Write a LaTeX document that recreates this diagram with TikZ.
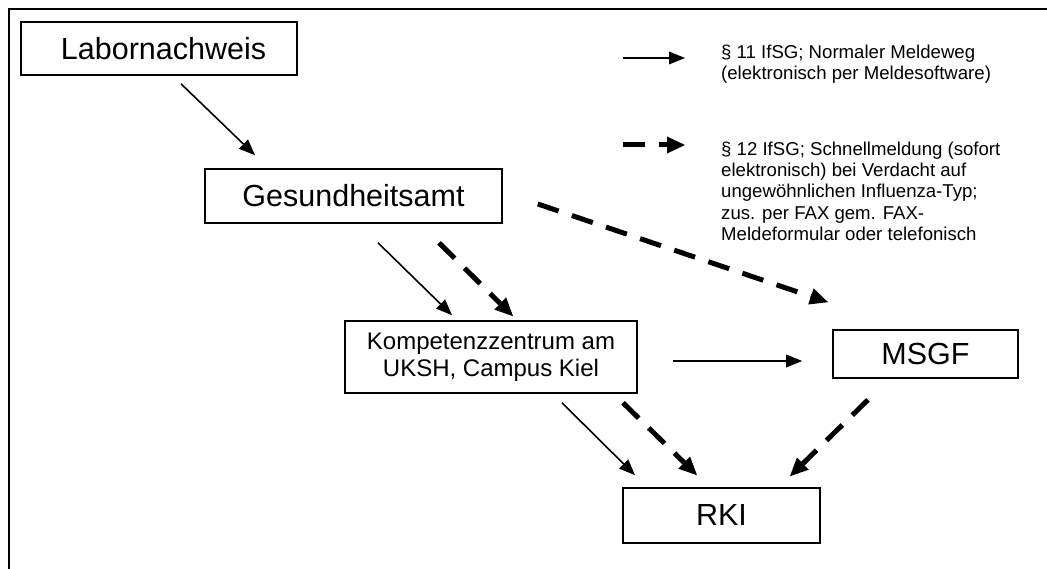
\documentclass[tikz,border=0pt]{standalone}
\usepackage{fontspec}
\setmainfont{Liberation Sans}
\usetikzlibrary{arrows.meta,calc}
\begin{document}
\begin{tikzpicture}[x=1pt,y=-1pt,
  box/.style={draw, line width=1.6pt, rectangle, inner sep=0pt, align=center},
  big/.style={font=\fontsize{30.5}{34}\selectfont},
  mid/.style={font=\fontsize{24}{27.5}\selectfont},
  solidarrow/.style={line width=1.6pt, -{Triangle[length=16pt,width=13pt,line width=0pt]}},
  dasharrow/.style={line width=5pt, dash pattern=on 22pt off 14pt, -{Triangle[length=18pt,width=17pt,line width=0pt]}},
  legendtext/.style={font=\fontsize{18.6}{21.3}\selectfont, align=left, anchor=north west, inner sep=0pt},
  frameline/.style={line width=1.6pt}
]
\useasboundingbox (0,0) rectangle (1047,569);
\draw[frameline] (9,569) -- (9,9) -- (1047,9);

\node[box, big, minimum width=276pt, minimum height=53pt] (lab) at (159,48.5) {\hspace*{9pt}Labornachweis};
\node[box, big, minimum width=297pt, minimum height=54pt] (ges) at (353.5,196) {Gesundheitsamt};
\node[box, mid, minimum width=292pt, minimum height=72pt] (kom) at (491,357) {Kompetenzzentrum am\\UKSH, Campus Kiel};
\node[box, big, minimum width=185pt, minimum height=48pt] (msgf) at (925.5,354) {MSGF};
\node[box, big, minimum width=197pt, minimum height=55pt] (rki) at (721.5,515.5) {RKI};

% connectors
\draw[solidarrow] ([shift={(22,8)}]lab.south) -- ([shift={(-98.5,-13)}]ges.north);
\draw[solidarrow] ([shift={(24.5,19)}]ges.south) -- ([shift={(-39,-5)}]kom.north);
\draw[dasharrow] ([shift={(85.5,19)}]ges.south) -- ([shift={(22,-4)}]kom.north);
\draw[dasharrow] ([shift={(35,8)}]ges.east) -- ([shift={(-97.5,-27)}]msgf.north);
\draw[solidarrow] ([shift={(35,4)}]kom.east) -- ([shift={(-30,7)}]msgf.west);
\draw[solidarrow] ([shift={(71,9)}]kom.south) -- ([shift={(-86.5,-12)}]rki.north);
\draw[dasharrow] ([shift={(132,9)}]kom.south) -- ([shift={(-24.5,-12)}]rki.north);
\draw[dasharrow] ([shift={(-57.5,21)}]msgf.south) -- ([shift={(68.5,-11)}]rki.north);

% legend
\node[legendtext] (leg1) at (721,45) {§ 11 IfSG; Normaler Meldeweg\\(elektronisch per Meldesoftware)};
\node[legendtext] (leg2) at (721,141.5) {§ 12 IfSG; Schnellmeldung (sofort\\elektronisch) bei Verdacht auf\\ungewöhnlichen Influenza-Typ;\\zus. per FAX gem. FAX-\\Meldeformular oder telefonisch};
\coordinate (l1a) at (623,58);
\coordinate (l1b) at (685,58);
\coordinate (l2a) at (623,145);
\coordinate (l2b) at (685,145);
\draw[solidarrow] (l1a) -- (l1b);
\draw[dasharrow] (l2a) -- (l2b);
\end{tikzpicture}
\end{document}
